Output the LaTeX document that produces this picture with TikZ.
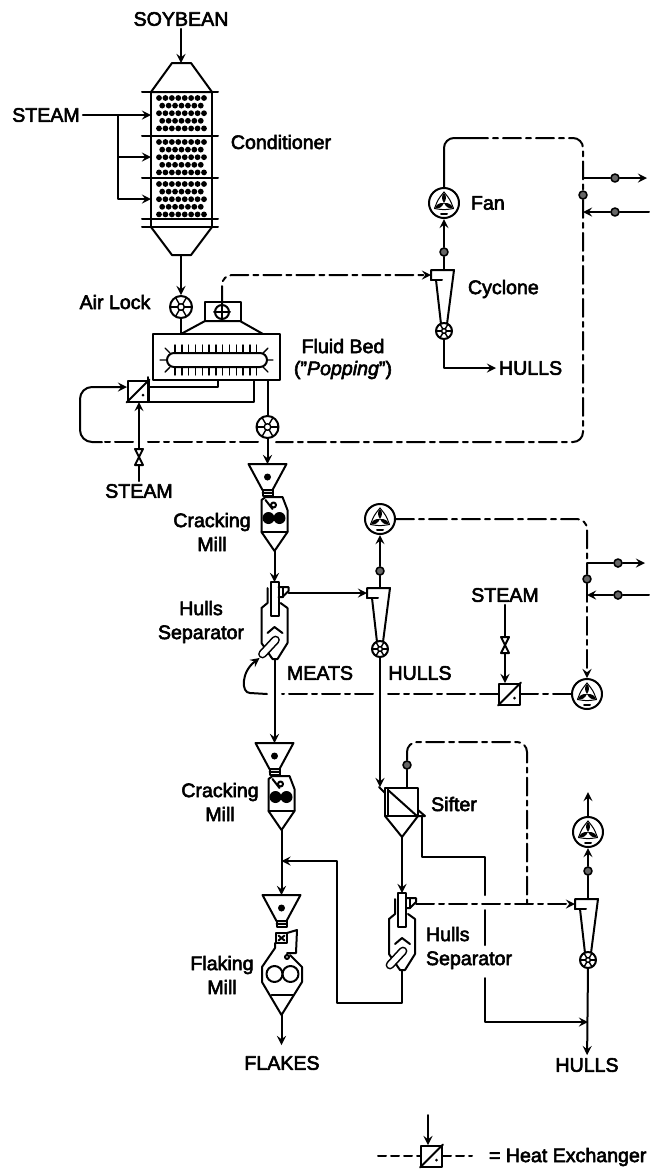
\documentclass[tikz,border=0pt]{standalone}
\usepackage{fontspec}
\setmainfont{Liberation Sans}[FakeBold=3]
\begin{document}
\begin{tikzpicture}[x=0.5pt, y=-0.5pt, line cap=round, line join=round, >=stealth, line width=1pt, font=\fontsize{9.8}{12}\selectfont]
	\tikzset{
		textlabel/.style={inner sep=1pt},
		probe/.style={circle, draw, fill=black!60, inner sep=0pt, minimum size=4pt, line width=0.8pt},
		dashline/.style={dash pattern=on 9pt off 2.5pt on 2.5pt off 2.5pt},
		pics/rotary/.style={code={
			\node[circle, draw, fill=white, inner sep=0pt, minimum size=#1pt] (-c) at (0,0) {};
			\foreach \a in {0,60,...,300} {
				\draw[line width=0.7pt] (\a:0.3*#1) -- (\a:#1);
			}
			\draw[line width=0.7pt] (0,0) circle (0.3*#1);
		}},
		fan/.pic={
			\node[circle, draw, fill=white, inner sep=0pt, minimum size=15pt] (-c) at (0,0) {};
			\foreach \a in {270,30,150} {
				\fill (0,0) .. controls (\a-35:5) and (\a-18:8) .. (\a:10) .. controls (\a+18:8) and (\a+35:5) .. (0,0);
				\draw[line width=0.5pt] (\a:11) .. controls (\a+60:7) .. (\a+120:11);
			}
			\draw (-3,11) -- (3,11);
		},
		hx/.pic={
			\node[rectangle, draw, fill=white, inner sep=0pt, minimum size=10.5pt] (-c) at (0,0) {};
			\draw (-c.south west) -- (-c.north east);
			\fill (5,4) circle (1.5);
		},
		valve/.pic={
			\draw (-4,-8) -- (4,-8) -- (-4,8) -- (4,8) -- cycle;
			\coordinate (-top) at (0,-8);
			\coordinate (-bot) at (0,8);
		},
		cyclone/.pic={
			\draw (-13,-51) -- (-13,-61) -- (10,-61) -- (3,-7);
			\draw (-13,-51) -- (-2,-51);
			\draw (-8,-51) -- (-3,-7);
			\pic (-rv) at (0,0) {rotary=8};
			\coordinate (-in) at (-13,-56);
			\coordinate (-top) at (0,-61);
			\coordinate (-out) at (0,8);
		},
		hopper/.pic={
			\draw (-19,0) -- (19,0) -- (5,26) -- (-5,26) -- cycle;
			\fill (0,13) circle (3.5);
			\draw (-5,26) -- (-5,32) -- (5,32) -- (5,26);
			\draw (-5,29) -- (5,29);
		},
		mill/.pic={
			\pic at (0,0) {hopper};
			\draw (-2,33) -- (15,33) -- (20,46) -- (20,68) -- (7,87) -- (-6,68) -- (-6,36) -- cycle;
			\draw (-6,68) -- (20,68);
			\fill (1,54) circle (6);
			\fill (12,54) circle (6);
			\draw (-2,36) -- (5,45);
			\draw (6,41) circle (2.5);
			\coordinate (-in) at (0,0);
			\coordinate (-out) at (7,87);
		},
		flakemill/.pic={
			\pic at (0,0) {hopper};
			\draw (-5.5,38) rectangle (5.5,48);
			\draw (-3,40.5) -- (3,45.5) (3,40.5) -- (-3,45.5);
			\draw (5.5,38) -- (15.5,35) -- (14.5,58) -- (5.5,58);
			\draw (-6.5,48) -- (-6.5,53) -- (-19.5,72) -- (-19.5,87) -- (0,120) -- (20.5,87) -- (20.5,72) -- (8.5,60);
			\draw (-10,100) -- (12,100);
			\draw (-7,79) circle (8);
			\draw (9,79) circle (8);
			\draw (5.5,62) circle (2);
			\coordinate (-in) at (0,0);
			\coordinate (-out) at (0,120);
		},
		separator/.pic={
			\draw[fill=white] (-4,0) rectangle (4,34);
			\draw (-7,6) -- (-7,21) -- (-13,26) -- (-13,61) -- (-2,77) -- (3,77) -- (13,61) -- (13,26) -- (6,21);
			\draw (4,5) -- (14,5) -- (14,9) -- (8,15) -- (4,15);
			\draw (8,15) -- (8,5);
			\draw (-7,51) -- (0,45) -- (8,51);
			\draw[line width=4.4pt] (1,58) -- (-12,72);
			\draw[line width=2.8pt, white] (1,58) -- (-12,72);
			\coordinate (-in) at (0,0);
			\coordinate (-vent) at (14,11);
			\coordinate (-out) at (0,77);
			\coordinate (-fine) at (-15,76);
		}
	}
	\useasboundingbox (0,0) rectangle (649,1169);

	% TEXT LABELS
	\node[textlabel] (soybean) at (181,19) {SOYBEAN};
	\node[textlabel] (steamA) at (46,115) {STEAM};
	\node[textlabel] (conditioner) at (281,142) {Conditioner};
	\node[textlabel] (airlock) at (115,302) {Air Lock};
	\node[textlabel, align=center] (fluidbed) at (343,359) {Fluid Bed\\[-1pt]("\textit{Popping}")};
	\node[textlabel] (steamB) at (139,491) {STEAM};
	\node[textlabel, align=center] (crackA) at (212,532) {Cracking\\Mill};
	\node[textlabel, align=center] (hullsepA) at (201,622) {Hulls\\Separator};
	\node[textlabel] (meats) at (320,673) {MEATS};
	\node[textlabel] (hullsB) at (420,673) {HULLS};
	\node[textlabel] (steamC) at (505,595) {STEAM};
	\node[textlabel, align=center] (crackB) at (220,802) {Cracking\\Mill};
	\node[textlabel] (sifter) at (454,804) {Sifter};
	\node[textlabel, align=left, anchor=west] (hullsepB) at (423,948) {Hulls\\Separator};
	\node[textlabel, align=center] (flaking) at (222,975) {Flaking\\Mill};
	\node[textlabel] (flakes) at (282,1063) {FLAKES};
	\node[textlabel] (hullsC) at (587,1065) {HULLS};
	\node[textlabel, anchor=west] (fanlabel) at (468,203) {Fan};
	\node[textlabel, anchor=west] (cyclonelabel) at (465,289) {Cyclone};
	\node[textlabel, anchor=west] (hullsA) at (496,368) {HULLS};
	\node[textlabel, anchor=west] (legend) at (486,1157) {= Heat Exchanger};

	% CONDITIONER
	\draw (172,63) -- (191,63) -- (212,92) -- (151,92) -- cycle;
	\draw (151,92) rectangle (212,227);
	\draw (151,227) -- (172,255) -- (191,255) -- (212,227);
	\foreach \y in {92,136,178,219,227} {
		\draw (142,\y) -- (218,\y);
	}
	\foreach \s in {98,142,184} {
		\foreach \r in {0,2,4} {
			\foreach \i in {0,...,7} {
				\fill ({159+6.43*\i},{\s+7.6*\r}) circle (2.9);
			}
		}
		\foreach \r in {1,3} {
			\foreach \i in {0,...,6} {
				\fill ({162.2+6.43*\i},{\s+7.6*\r}) circle (2.9);
			}
		}
	}

	% FLUID BED
	\node[rectangle, draw, inner sep=0pt, minimum width=63.5pt, minimum height=23pt] (bed) at (216.5,357) {};
	\node[rectangle, draw, rounded corners=3.5pt, inner sep=0pt, minimum width=50pt, minimum height=7pt] (drum) at (217,360) {};
	\draw (181,334) -- (205,321) -- (240,321) -- (263,334);
	\draw (205,321) -- (205,302) -- (241,302) -- (241,321);
	\node[circle, draw, fill=white, inner sep=0pt, minimum size=7pt] (cap) at (222,312) {};
	\draw (cap.north) -- (cap.south) (cap.west) -- (cap.east);
	\foreach \x in {175,181.8,...,258} {
		\draw[line width=0.7pt] (\x,345) -- (\x,353);
		\draw[line width=0.7pt] (\x,367) -- (\x,375);
	}
	\draw[line width=0.7pt] (165,348) -- (170,353) (160,360) -- (167,360) (165,372) -- (170,367);
	\draw[line width=0.7pt] (268,348) -- (263,353) (273,360) -- (267,360) (268,372) -- (263,367);

	% EQUIPMENT
	\pic (lockA) at (181,307) {rotary=11};
	\pic (lockB) at (267.5,427) {rotary=11};
	\pic (hxA) at (138,391) {hx};
	\pic (hxB) at (509.5,694) {hx};
	\pic (hxL) at (431.5,1156) {hx};
	\pic (valveA) at (139,457) {valve};
	\pic (valveB) at (505,645) {valve};
	\pic (fanA) at (444,203) {fan};
	\pic (fanB) at (380,519) {fan};
	\pic (fanC) at (587,694) {fan};
	\pic (fanD) at (588,832) {fan};
	\pic (cyA) at (444,331) {cyclone};
	\pic (cyB) at (380,649) {cyclone};
	\pic (cyC) at (588,960) {cyclone};
	\pic (millA) at (267.5,464) {mill};
	\pic (millB) at (274.5,743) {mill};
	\pic (flake) at (281.5,895) {flakemill};
	\pic (sepA) at (274.5,582) {separator};
	\pic (sepB) at (402,893) {separator};

	% SIFTER
	\draw (385,788) rectangle (418,816);
	\draw (388,788) -- (388,816);
	\draw (388,790) -- (417,816);
	\draw (385,816) -- (402,837) -- (418,816);
	\draw (418,810) -- (425,816) -- (418,816);
	\draw (379,787) -- (385,793);

	\foreach \n/\x/\y in {probeA/444/252, probeB/583/195, probeC/615/178, probeD/615/212,
		probeE/380/571, probeF/587/579, probeG/618/563, probeH/618/595,
		probeJ/407/765, probeK/588/871} {
		\node[probe] (\n) at (\x,\y) {};
	}
	\foreach \n/\x/\y in {condIn/181/63, condOut/181/255, condA/151/115, condB/151/157, condC/151/199,
		steamJ/118/115, steamK/118/157, bedIn/181/334, bedOut/267.5/380, bedA/218/380, bedB/254/380,
		hxAin/127/387, hxAa/148/387, hxAb/148/401.5, hxAs/139/402,
		topA/470/138, tapA/583/178, endA/647/178, tapB/583/212, endB/649/212,
		tapC/587/563, endC/645/563, tapD/587/595, endD/649/595,
		loopA/276/442, loopB/258/442, loopC/148/442, loopD/133/442, loopE/102/442,
		retA/388/694, retB/373/694, retC/282/694, retD/267/694, retE/250/693,
		hxBs/505/683, joinM/281.5/861, flakesEnd/281.5/1045, siftIn/380/787, siftOut/402/837,
		siftVent/407/788, siftOver/422/816, joinC/527/904, chuteA/485/895, chuteB/485/910, chuteC/485/945,
		chuteD/485/978, joinH/588/1022, ventEnd/588/792, legA/428/1115, legB/428/1145, legC/378/1156, legD/472/1156} {
		\coordinate (\n) at (\x,\y);
	}

	% FIRST SECTION
	\draw[->] (soybean) -- (condIn);
	\draw[->] (steamA) -- (condA);
	\draw[->] (steamJ) |- (condC);
	\draw[->] (steamK) -- (condB);
	\draw[->] (condOut) -- (lockA-c);
	\draw (lockA-c) -- (bedIn);
	\draw (bedOut) -- (lockB-c);
	\draw[->] (lockB-c) -- (millA-in);
	\draw[dashline, ->, rounded corners=5pt] (cap) |- (cyA-in);
	\draw (cyA-top) -- (probeA);
	\draw[->] (probeA) -- (fanA-c);
	\draw[->] (cyA-out) |- (hullsA);
	\draw[rounded corners=5pt] (fanA-c) |- (topA);
	\draw[dashline, rounded corners=5pt] (topA) -- (583,138) -- (probeB);
	\draw[dashline, rounded corners=5pt] (probeB) -- (583,442) -- (loopA);
	\draw[dashline] (loopB) -- (loopC);
	\draw[dashline] (loopD) -- (loopE);
	\draw[->, rounded corners=6pt] (loopE) -- (80,442) -- (80,387) -- (hxAin);
	\draw (tapA) -- (probeC);
	\draw[->] (probeC) -- (endA);
	\draw (endB) -- (probeD);
	\draw[->] (probeD) -- (tapB);
	\draw (steamB) -- (valveA-bot);
	\draw[->] (valveA-top) -- (hxAs);
	\draw (148,377) -- (148,402);
	\draw (hxAa) -| (bedA);
	\draw (hxAb) -| (bedB);

	% SECOND SECTION
	\draw[->] (millA-out) -- (sepA-in);
	\draw[->] (sepA-vent) -- (cyB-in);
	\draw (cyB-top) -- (probeE);
	\draw[->] (probeE) -- (fanB-c);
	\draw[dashline, rounded corners=5pt] (fanB-c) -- (587,519) -- (probeF);
	\draw[dashline, ->] (probeF) -- (fanC-c);
	\draw (tapC) -- (probeG);
	\draw[->] (probeG) -- (endC);
	\draw (endD) -- (probeH);
	\draw[->] (probeH) -- (tapD);
	\draw[dashline] (fanC-c) -- (hxB-c);
	\draw[dashline] (hxB-c) -- (retA);
	\draw[dashline] (retB) -- (retC);
	\draw (retD) -- (retE);
	\draw[->] (retE) .. controls (241,693) and (241,672) .. (sepA-fine);
	\draw (steamC) -- (valveB-top);
	\draw[->] (valveB-bot) -- (hxBs);
	\draw[->] (sepA-out) -- (millB-in);

	% THIRD SECTION
	\draw[->] (cyB-out) -- (siftIn);
	\draw[->] (siftOut) -- (sepB-in);
	\draw (siftVent) -- (probeJ);
	\draw[dashline, rounded corners=5pt] (probeJ) -- (407,742) -- (527,742) -- (joinC);
	\draw (siftOver) -- (422,857) -- (485,857) -- (chuteA);
	\draw (chuteB) -- (chuteC);
	\draw[->] (chuteD) |- (joinH);
	\draw[dashline, ->] (sepB-vent) -- (cyC-in);
	\draw (cyC-top) -- (probeK);
	\draw[->] (probeK) -- (fanD-c);
	\draw[->] (fanD-c) -- (ventEnd);
	\draw[->] (cyC-out) -- (hullsC);
	\draw[->] (millB-out) -- (flake-in);
	\draw[->] (flake-out) -- (flakesEnd);
	\draw[->] (sepB-out) |- (337,1003) |- (joinM);

	% LEGEND
	\draw[->] (legA) -- (legB);
	\draw[dash pattern=on 4pt off 2.5pt] (legC) -- (hxL-c);
	\draw[dash pattern=on 4pt off 2.5pt] (hxL-c) -- (legD);
\end{tikzpicture}
\end{document}
